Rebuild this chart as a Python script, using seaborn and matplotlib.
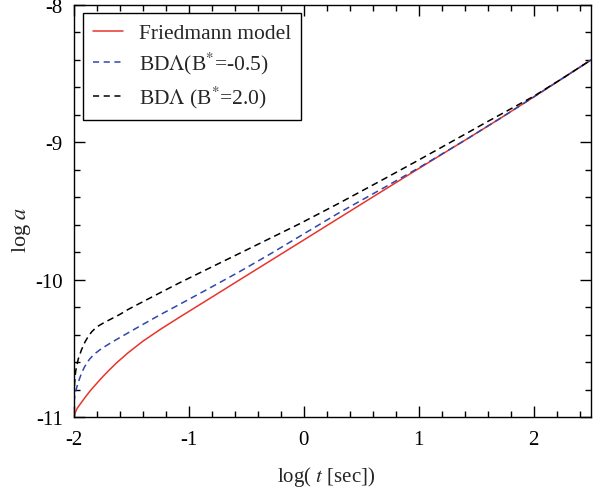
import matplotlib
matplotlib.use("Agg")
import matplotlib.pyplot as plt
import seaborn as sns
import pandas as pd
from matplotlib.ticker import MultipleLocator

# Friedmann model
x_fried = [-2.0, -1.99, -1.97, -1.948, -1.9, -1.861, -1.8, -1.746, -1.69, -1.63, -1.53, -1.4, -1.25,
           -1.08, -0.8, -0.56, -0.3, -0.04, 0.3, 0.7, 1.0, 1.43, 1.7, 2.0, 2.25, 2.5]
y_fried = [-11.0, -10.965, -10.93, -10.905, -10.85, -10.808, -10.75, -10.70, -10.652, -10.603, -10.53,
           -10.445, -10.36, -10.27, -10.125, -10.0, -9.865, -9.73, -9.553, -9.345, -9.19, -8.97, -8.83,
           -8.67, -8.535, -8.40]

# BD-Lambda, B* = -0.5
x_bdm = [-2.0, -1.99, -1.963, -1.94, -1.915, -1.89, -1.861, -1.82, -1.775, -1.72, -1.659, -1.53, -1.4,
         -1.25, -1.08, -0.8, -0.56, -0.3, -0.04, 0.3, 0.7, 1.0, 1.43, 1.7, 2.0, 2.25, 2.5]
y_bdm = [-10.89, -10.82, -10.744, -10.69, -10.643, -10.605, -10.572, -10.537, -10.508, -10.478, -10.447,
         -10.385, -10.323, -10.253, -10.177, -10.05, -9.94, -9.815, -9.685, -9.515, -9.328, -9.185, -8.97,
         -8.83, -8.67, -8.535, -8.40]

# BD-Lambda, B* = 2.0
x_bdp = [-2.0, -1.995, -1.985, -1.963, -1.935, -1.905, -1.875, -1.845, -1.815, -1.785, -1.74, -1.68,
         -1.6, -1.53, -1.4, -1.25, -1.08, -0.8, -0.56, -0.3, -0.04, 0.3, 0.7, 1.0, 1.35, 1.6, 2.0, 2.25, 2.5]
y_bdp = [-10.85, -10.75, -10.66, -10.575, -10.508, -10.452, -10.409, -10.376, -10.352, -10.333, -10.311,
         -10.285, -10.25, -10.215, -10.158, -10.093, -10.02, -9.905, -9.807, -9.70, -9.593, -9.445, -9.265,
         -9.128, -8.965, -8.848, -8.665, -8.535, -8.40]

labels = ["Friedmann model", r"BD$\Lambda$(B$^{*}$=-0.5)", r"BD$\Lambda$ (B$^{*}$=2.0)"]
xticks = [-2, -1, 0, 1, 2]
yticks = [-11, -10, -9, -8]

sns.set_style("ticks")
plt.rcParams["font.family"] = ["Liberation Serif", "DejaVu Serif"]
plt.rcParams["mathtext.fontset"] = "stix"
plt.rcParams["axes.unicode_minus"] = False

fig = plt.figure(figsize=(5.93, 4.89), dpi=100)
ax = fig.add_axes([0.1248, 0.1442, 0.872, 0.8438])

df1 = pd.DataFrame({"x": x_fried, "y": y_fried})
df2 = pd.DataFrame({"x": x_bdm, "y": y_bdm})
df3 = pd.DataFrame({"x": x_bdp, "y": y_bdp})

sns.lineplot(data=df1, x="x", y="y", ax=ax, color="#e8352b", lw=1.1, label=labels[0], sort=False)
sns.lineplot(data=df2, x="x", y="y", ax=ax, color="#2f46ae", lw=1.1, label=labels[1], sort=False)
sns.lineplot(data=df3, x="x", y="y", ax=ax, color="black", lw=1.1, label=labels[2], sort=False)
ax.lines[1].set_dashes([4.4, 2.8])
ax.lines[2].set_dashes([4.4, 2.8])

ax.set_xlim(-2, 2.5)
ax.set_ylim(-11, -8)
ax.set_xticks(xticks)
ax.set_yticks(yticks)
ax.xaxis.set_minor_locator(MultipleLocator(0.2))
ax.yaxis.set_minor_locator(MultipleLocator(0.2))
ax.tick_params(which="both", direction="in", top=True, right=True, labelsize=15, width=1, colors="black")
ax.tick_params(which="major", length=8)
ax.tick_params(axis="y", which="major", pad=8)
ax.tick_params(axis="x", which="major", pad=9)
ax.tick_params(which="minor", length=4)
for s in ax.spines.values():
    s.set_linewidth(1.0)
    s.set_color("black")

ax.set_xlabel(r"log( $t$ [sec])", fontsize=15)
ax.set_ylabel(r"log $a$", fontsize=16)
ax.xaxis.set_label_coords(0.487, -0.113)
ax.yaxis.set_label_coords(-0.08, 0.457)

leg = ax.legend(loc="upper left", bbox_to_anchor=(0.0174, 0.981), borderaxespad=0, fontsize=15.5,
                frameon=True, fancybox=False, edgecolor="black", handlelength=1.4,
                handletextpad=0.7, borderpad=0.48, labelspacing=0.33)
leg.get_frame().set_linewidth(1.0)
leg.get_frame().set_alpha(1)
for h in leg.get_lines():
    h.set_linewidth(1.1)
leg.get_lines()[1].set_dashes([4.0, 3.0])
leg.get_lines()[2].set_dashes([4.0, 3.0])

fig.savefig("out.png", dpi=100)
